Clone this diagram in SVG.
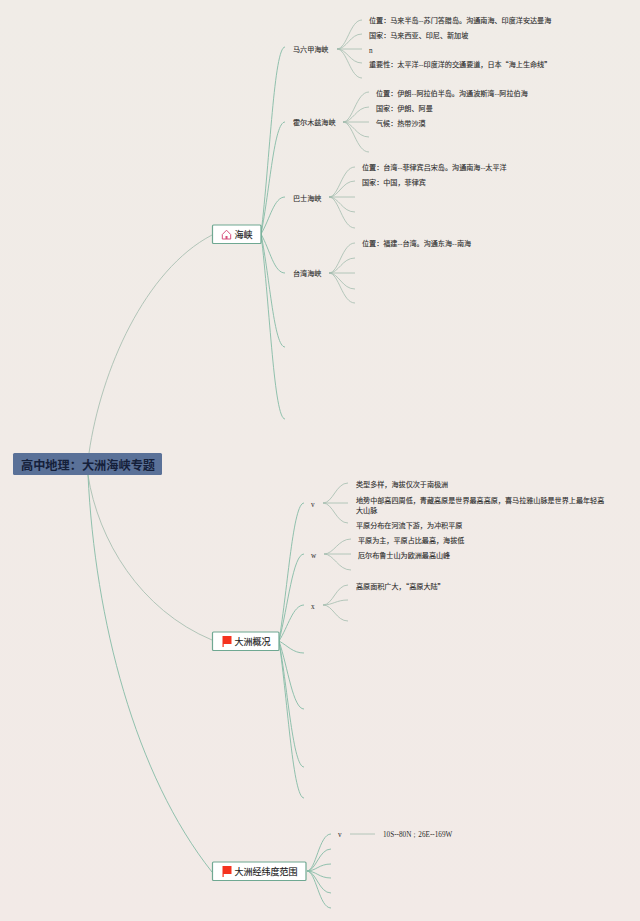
<svg xmlns="http://www.w3.org/2000/svg" width="640" height="921" viewBox="0 0 640 921">
<style>
text{font-family:"Noto Sans CJK SC","Liberation Sans",sans-serif;fill:#2b2b2b}
.leaf{font-size:7.1px;stroke:#2b2b2b;stroke-width:.1}
.lat{font-family:"Liberation Serif",serif;font-size:7.2px}
.topic{font-size:9px;fill:#222;stroke:#222;stroke-width:.15}
.box{fill:#fff;stroke:#6fa892;stroke-width:1.2}
.main,.branch,.twig{fill:none}
.main{stroke:#a9c0b2;stroke-width:.9}
.branch{stroke:#85bba6;stroke-width:.9}
.twig{stroke:#a3bcae;stroke-width:.8}
</style>
<defs>
<linearGradient id="bg" x1="0" y1="0" x2="0" y2="1"><stop offset="0" stop-color="#f0ece7"/><stop offset="1" stop-color="#f2eae7"/></linearGradient>
<g id="flag"><path d="M222.5 636h9v8h-7.800v3h-1.200z" fill="#f5321e"/></g>
</defs>
<rect width="640" height="921" fill="url(#bg)"/>
<g id="connectors">
<path class="main" d="M89 453C101 370 145 270 212 235"/>
<path class="main" d="M88 475C98 540 140 610 212 640"/>
<path class="branch" d="M88 475C95 620 135 775 212 872"/>
<path class="branch" d="M261 234C270 159 274 47 285 47"/>
<path class="branch" d="M261 234C270 189 274 122 285 122"/>
<path class="branch" d="M261 234C270 219 274 197 285 197"/>
<path class="branch" d="M261 234C270 250 274 273 285 273"/>
<path class="branch" d="M261 234C270 279 274 347 285 347"/>
<path class="branch" d="M261 234C270 308 274 419 285 419"/>
<path class="branch" d="M279 641C288 586 293 503 304 503"/>
<path class="branch" d="M279 641C288 606 293 554 304 554"/>
<path class="branch" d="M279 641C288 627 293 605 304 605"/>
<path class="branch" d="M279 641C288 646 293 653 304 653"/>
<path class="branch" d="M279 641C288 668 293 709 304 709"/>
<path class="branch" d="M279 641C288 691 293 767 304 767"/>
<path class="branch" d="M279 641C288 704 293 798 304 798"/>
<path class="twig" d="M337 49C347 49 350 20 362 20M337 49C347 49 350 34 362 34M337 49H362M337 49C347 49 350 63 362 63M337 49C347 49 350 78 362 78"/>
<path class="twig" d="M343 122C353 122 356 92 369 92M343 122C353 122 356 107 369 107M343 122H369M343 122C353 122 356 137 369 137M343 122C353 122 356 152 369 152"/>
<path class="twig" d="M329 197C339 197 342 167 355 167M329 197C339 197 342 181 355 181M329 197H355M329 197C339 197 342 212 355 212M329 197C339 197 342 228 355 228"/>
<path class="twig" d="M329 273C339 273 342 243 355 243M329 273C339 273 342 258 355 258M329 273H355M329 273C339 273 342 289 355 289M329 273C339 273 342 303 355 303"/>
<path class="twig" d="M323 503C333 503 336 483 348 483M323 503H348M323 503C333 503 336 523 348 523"/>
<path class="twig" d="M324 554C334 554 338 539 351 539M324 554H351M324 554C334 554 338 570 351 570"/>
<path class="twig" d="M323 605C333 605 336 585 348 585M323 605C333 605 336 600 348 600M323 605C333 605 336 621 348 621"/>
<path class="branch" d="M307 871C316 871 319 834 331 834M307 871C316 871 319 849 331 849M307 871C316 871 319 864 331 864M307 871C316 871 319 878 331 878M307 871C316 871 319 893 331 893M307 871C316 871 319 908 331 908"/>
<path class="twig" d="M350 834H375"/>
</g>
<g id="root">
<rect x="13" y="453" width="149" height="22" rx="1.500" fill="#5a7198"/>
<text x="21" y="470" font-size="12.2" font-weight="700" style="fill:#15203a">高中地理：大洲海峡专题</text>
</g>
<g id="node-haixia">
<rect class="box" x="212.500" y="225" width="48.500" height="18.500" rx="1"/>
<path d="M222.300 234.500L226.500 230.200L230.700 234.500V239H222.300Z" fill="none" stroke="#d8507e" stroke-width="1"/><rect x="225.500" y="236" width="2" height="3" fill="#d8507e"/>
<text class="topic" x="234.500" y="237.500">海峡</text>
</g>
<g id="node-malacca"><text class="leaf" x="293" y="52">马六甲海峡</text>
<text class="leaf" x="369" y="23">位置：马来半岛--苏门答腊岛。沟通南海、印度洋安达曼海</text>
<text class="leaf" x="369" y="38">国家：马来西亚、印尼、新加坡</text>
<text class="lat" x="369" y="53">n</text>
<text class="leaf" x="369" y="67">重要性：太平洋--印度洋的交通要道，日本“海上生命线”</text></g>
<g id="node-hormuz"><text class="leaf" x="293" y="125">霍尔木兹海峡</text>
<text class="leaf" x="376" y="95.500">位置：伊朗--阿拉伯半岛。沟通波斯湾--阿拉伯海</text>
<text class="leaf" x="376" y="111">国家：伊朗、阿曼</text>
<text class="leaf" x="376" y="126">气候：热带沙漠</text></g>
<g id="node-bashi"><text class="leaf" x="293" y="200.500">巴士海峡</text>
<text class="leaf" x="362" y="170">位置：台湾--菲律宾吕宋岛。沟通南海--太平洋</text>
<text class="leaf" x="362" y="185">国家：中国，菲律宾</text></g>
<g id="node-taiwan"><text class="leaf" x="293" y="276">台湾海峡</text>
<text class="leaf" x="362" y="246">位置：福建--台湾。沟通东海--南海</text></g>
<g id="node-overview">
<rect class="box" x="212.500" y="632" width="66.500" height="18.500" rx="1"/>
<use href="#flag"/>
<text class="topic" x="234.500" y="645">大洲概况</text>
</g>
<g id="node-v"><text class="lat" x="311" y="507">v</text>
<text class="leaf" x="356" y="487">类型多样，海拔仅次于南极洲</text>
<text class="leaf" x="356" y="502.500">地势中部高四周低，青藏高原是世界最高高原，喜马拉雅山脉是世界上最年轻高</text>
<text class="leaf" x="356" y="512.500">大山脉</text>
<text class="leaf" x="356" y="527.500">平原分布在河流下游，为冲积平原</text></g>
<g id="node-w"><text class="lat" x="311" y="557.500">w</text>
<text class="leaf" x="358" y="542.500">平原为主，平原占比最高，海拔低</text>
<text class="leaf" x="358" y="557.500">厄尔布鲁士山为欧洲最高山峰</text></g>
<g id="node-x"><text class="lat" x="311" y="608.500">x</text>
<text class="leaf" x="356" y="588.500">高原面积广大，“高原大陆”</text></g>
<g id="node-range">
<rect class="box" x="212.500" y="862" width="93.500" height="18.500" rx="1"/>
<use href="#flag" y="230"/>
<text class="topic" x="234.500" y="875">大洲经纬度范围</text>
</g>
<g id="node-range-v"><text class="lat" x="338" y="837">v</text>
<text class="lat" x="383" y="837">10S--80N；26E--169W</text></g>
</svg>
